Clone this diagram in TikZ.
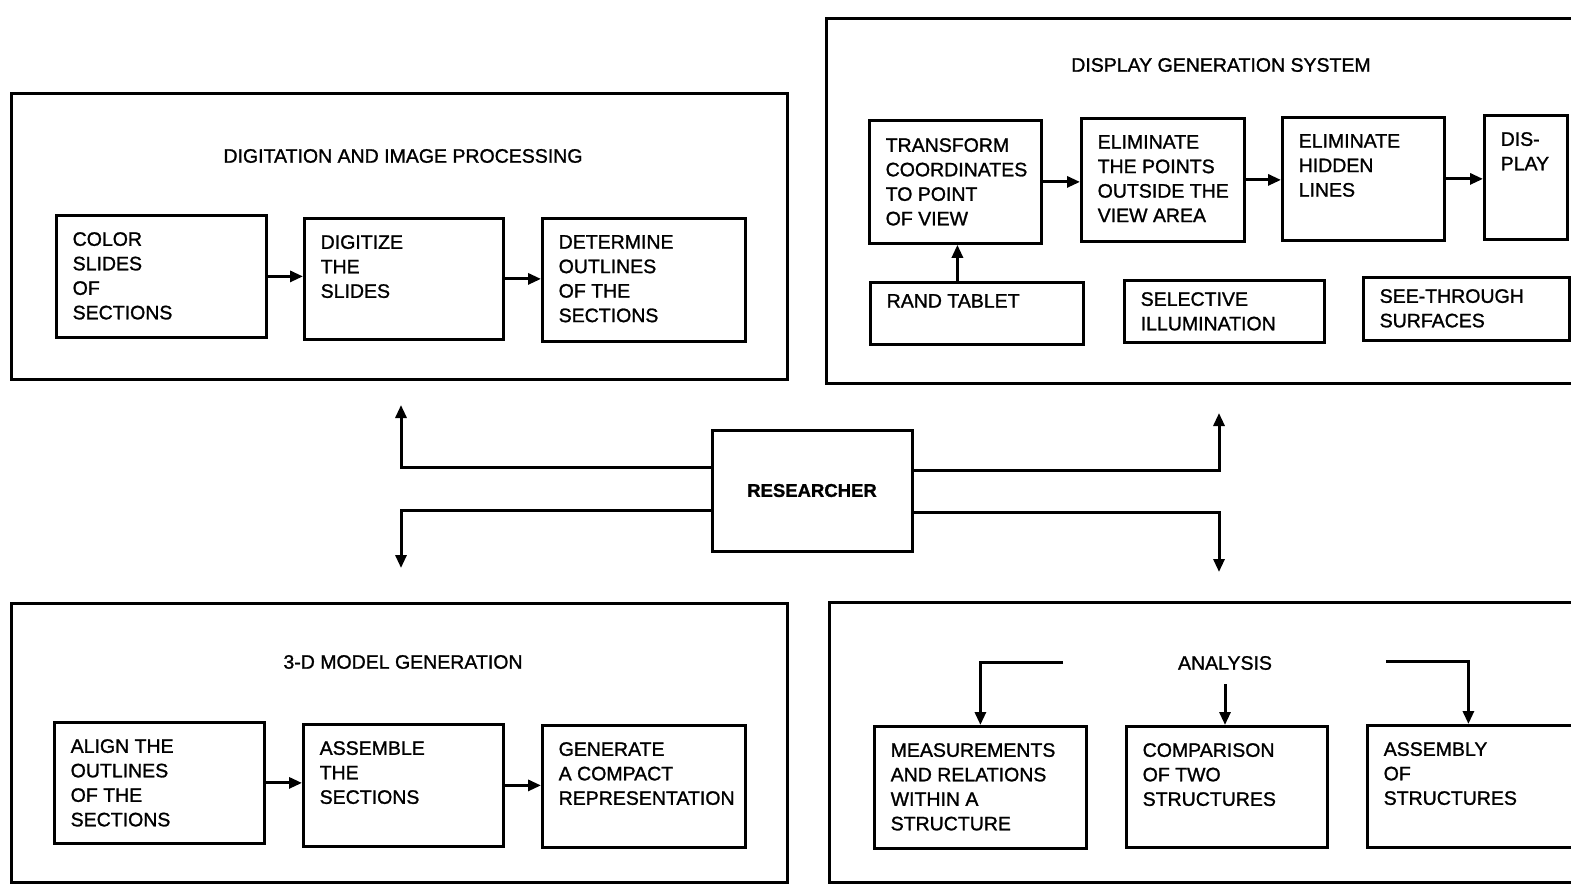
\documentclass[tikz,border=0pt]{standalone}
\usepackage{fontspec}
\setmainfont{Liberation Sans}[FakeBold=1.2]
\usetikzlibrary{arrows.meta,calc}
\tikzset{
 outerbox/.style={draw, line width=3pt, inner sep=0pt, anchor=north west},
 box/.style={draw, line width=2.8pt, inner sep=0pt, anchor=north west},
 txt/.style={anchor=north west, inner sep=0pt, align=left, font=\fontsize{19.5}{24.5}\selectfont},
 ttl/.style={inner sep=0pt, font=\fontsize{19.5}{24}\selectfont},
 arr/.style={line width=3pt, -{Triangle[length=13pt,width=11pt]}},
}
\newcommand\bx[7]{%
 \node[box, minimum width=#4pt, minimum height=#5pt] (#1) at (#2,#3) {};
 \node[txt] (#1-t) at ([shift={(17.5pt,-#6pt)}]#1.north west) {#7};}
\begin{document}
\begin{tikzpicture}[x=1pt,y=-1pt]
\useasboundingbox (0,0) rectangle (1571,885);
\clip (0,0) rectangle (1571,885);
\fill[white] (0,0) rectangle (1571,885);
% group frames
\node[outerbox, minimum width=776pt, minimum height=286pt] (gDig) at (10,92) {};
\node[outerbox, minimum width=770pt, minimum height=365pt] (gDisp) at (825,17) {};
\node[outerbox, minimum width=776pt, minimum height=279pt] (gMod) at (10,602) {};
\node[outerbox, minimum width=770pt, minimum height=280pt] (gAn) at (828,601) {};
% titles
\node[ttl] (tDig) at (403,156) {DIGITATION AND IMAGE PROCESSING};
\node[ttl] (tDisp) at (1221,65) {DISPLAY GENERATION SYSTEM};
\node[ttl] (tMod) at (403,662) {3-D MODEL GENERATION};
\node[ttl] (tAn) at (1225,663) {ANALYSIS};
% top-left
\bx{color}{55}{214}{210}{122}{18}{COLOR\\SLIDES\\OF\\SECTIONS}
\bx{digit}{303}{217}{199}{121}{18}{DIGITIZE\\THE\\SLIDES}
\bx{determ}{541}{217}{203}{123}{18}{DETERMINE\\OUTLINES\\OF THE\\SECTIONS}
% top-right
\bx{transf}{868}{119}{172}{123}{19}{TRANSFORM\\COORDINATES\\TO POINT\\OF VIEW}
\bx{elimA}{1080}{117}{163}{123}{18}{ELIMINATE\\THE POINTS\\OUTSIDE THE\\VIEW AREA}
\bx{elimB}{1281}{116}{162}{123}{18}{ELIMINATE\\HIDDEN\\LINES}
\bx{disp}{1483}{114}{83}{124}{18}{DIS-\\PLAY}
\bx{rand}{869}{281}{213}{62}{13}{RAND TABLET}
\bx{selill}{1123}{279}{200}{62}{13}{SELECTIVE\\ILLUMINATION}
\bx{seethr}{1362}{276}{206}{63}{13}{SEE-THROUGH\\SURFACES}
% bottom-left
\bx{align}{53}{721}{210}{121}{18}{ALIGN THE\\OUTLINES\\OF THE\\SECTIONS}
\bx{assem}{302}{723}{200}{122}{18}{ASSEMBLE\\THE\\SECTIONS}
\bx{gener}{541}{724}{203}{122}{18}{GENERATE\\A COMPACT\\REPRESENTATION}
% bottom-right
\bx{meas}{873}{725}{212}{122}{18}{MEASUREMENTS\\AND RELATIONS\\WITHIN A\\STRUCTURE}
\bx{comp}{1125}{725}{201}{121}{18}{COMPARISON\\OF TWO\\STRUCTURES}
\bx{assy}{1366}{724}{220}{122}{18}{ASSEMBLY\\OF\\STRUCTURES}
% researcher
\node[draw, line width=3pt, minimum width=200pt, minimum height=121pt, inner sep=0pt,
  font=\bfseries\fontsize{18.5}{22}\selectfont] (res) at (812,490.5) {RESEARCHER};
% flow arrows
\draw[arr] (color.east) -- (color.east -| digit.west);
\draw[arr] (digit.east) -- (digit.east -| determ.west);
\draw[arr] (transf.east) -- (transf.east -| elimA.west);
\draw[arr] (elimA.east) -- (elimA.east -| elimB.west);
\draw[arr] (elimB.east) -- (elimB.east -| disp.west);
\draw[arr] ([xshift=-19.5pt]rand.north) -- ([xshift=-19.5pt]rand.north |- transf.south);
\draw[arr] (align.east) -- (align.east -| assem.west);
\draw[arr] (assem.east) -- (assem.east -| gener.west);
% researcher connectors
\coordinate (upL) at (401,405);
\coordinate (upR) at (1219,413);
\coordinate (dnL) at (401,568);
\coordinate (dnR) at (1219,572);
\draw[arr] ([yshift=23.5pt]res.west) -| (upL);
\draw[arr] ([yshift=20.5pt]res.east) -| (upR);
\draw[arr] ([yshift=-19.5pt]res.west) -| (dnL);
\draw[arr] ([yshift=-21.5pt]res.east) -| (dnR);
% analysis connectors
\coordinate (anL) at (1063,662);
\coordinate (anM) at (1225,684);
\coordinate (anR) at (1386,661);
\draw[arr] (anL) -| (meas.north);
\draw[arr] (anM) -- (anM |- comp.north);
\draw[arr] (anR) -| ([xshift=-9pt]assy.north);
\end{tikzpicture}
\end{document}
